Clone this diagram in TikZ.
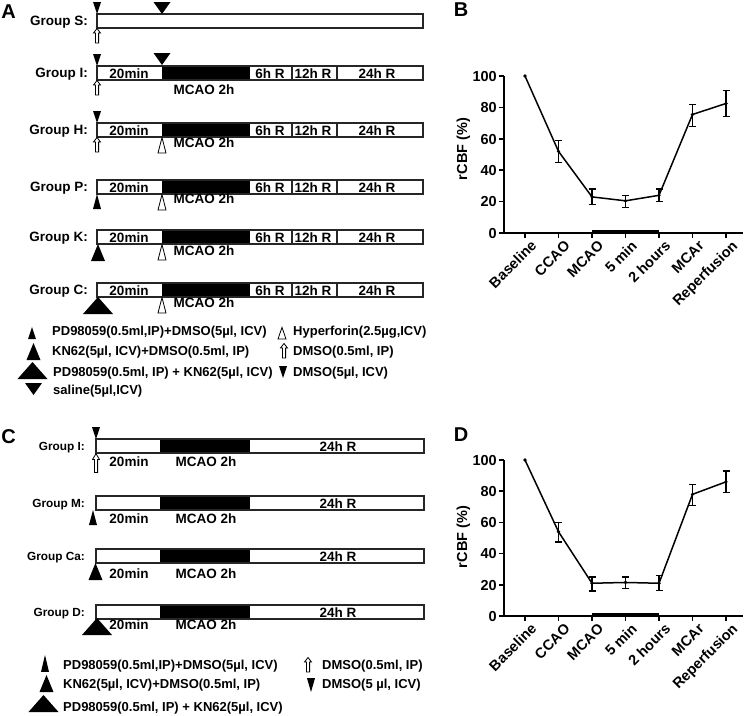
\documentclass[tikz,border=0pt]{standalone}
\usepackage{fontspec}
\setmainfont{Liberation Sans}
\tikzset{
  mkdn/.pic={\fill (-4,-12) -- (4,-12) -- (0,0) -- cycle;},
  mkdnw/.pic={\fill (-8.5,-12) -- (8.5,-12) -- (0,0) -- cycle;},
  mkarr/.pic={\draw[line width=0.8pt, fill=white] (0,0.5) -- (3.5,5) -- (1.6,5) -- (1.6,15) -- (-1.6,15) -- (-1.6,5) -- (-3.5,5) -- cycle;},
  mkhyp/.pic={\draw[line width=0.8pt, fill=white] (0,0.5) -- (4,16) -- (-4,16) -- cycle;},
  mkupS/.pic={\fill (0,0) -- (4,15) -- (-4,15) -- cycle;},
  mkupM/.pic={\fill (0,0) -- (7,17) -- (-7,17) -- cycle;},
  mkupL/.pic={\fill (0,0) -- (15,17) -- (-15,17) -- cycle;},
}
\begin{document}
\begin{tikzpicture}[x=1pt,y=-1pt,
  every node/.style={inner sep=0pt, text depth=0pt},
  bar/.style={draw=black!85, line width=1.2pt},
  seg/.style={draw=black!85, line width=1.1pt},
  tA/.style={font=\fontsize{13.5}{14}\selectfont\bfseries, text height=9.7pt},
  tC/.style={font=\fontsize{11.8}{13}\selectfont\bfseries, text height=8.5pt},
  tL/.style={font=\fontsize{13}{14}\selectfont\bfseries, text height=9.3pt, anchor=west},
  panel/.style={font=\fontsize{20}{22}\selectfont\bfseries, text height=14.3pt},
  ticklbl/.style={font=\fontsize{14.5}{15}\selectfont\bfseries, text height=10.4pt},
  xlbl/.style={font=\fontsize{14.5}{15}\selectfont\bfseries, text height=10.4pt, rotate=45, anchor=north east},
  ax/.style={line width=1.5pt},
  dl/.style={line width=1.5pt, line join=round},
  eb/.style={line width=1.2pt},
]
\useasboundingbox (0,0) rectangle (744,715);
\fill[white] (0,0) rectangle (744,715);

% ---------- Panel letters ----------
\node[panel] (pA) at (8.5,11.5) {A};
\node[panel] (pB) at (461,9.5) {B};
\node[panel] (pC) at (8.5,436) {C};
\node[panel] (pD) at (461,434) {D};

% ---------- Panel A ----------
\draw[bar, fill=white] (97,14) rectangle (423,28);
\node[tA, anchor=east] (aS) at (88,21) {Group S:};
\pic at (97,14) {mkdn};
\pic at (162,14) {mkdnw};
\pic at (97,28) {mkarr};

\foreach \gn/\gy/\gm in {I/66/90, H/123/143, P/180/199, K/230/251, C/283/303} {
  \fill[white] (97,\gy) rectangle (423,\gy+14);
  \fill (162,\gy) rectangle (250,\gy+14);
  \draw[seg] (292,\gy) -- (292,\gy+14) (337,\gy) -- (337,\gy+14);
  \draw[bar] (97,\gy) rectangle (423,\gy+14);
  \node[tA, anchor=east] (a\gn) at (88,\gy+7) {Group \gn:};
  \node[tA] (atw\gn) at (129,\gy+7.5) {20min};
  \node[tA] (atsix\gn) at (270,\gy+7.5) {6h R};
  \node[tA] (attw\gn) at (313,\gy+7.5) {12h R};
  \node[tA] (attf\gn) at (377,\gy+7.5) {24h R};
  \node[tA] (amc\gn) at (204,\gm) {MCAO 2h};
}
\pic at (97,66) {mkdn};
\pic at (162,65) {mkdnw};
\pic at (97,80) {mkarr};
\pic at (97,123) {mkdn};
\pic at (97,137) {mkarr};
\pic at (162,137) {mkhyp};
\pic at (97,194) {mkupS};
\pic at (162,194) {mkhyp};
\pic at (98,244) {mkupM};
\pic at (162,244) {mkhyp};
\pic at (98,297) {mkupL};
\pic at (162,297) {mkhyp};

% legend A
\pic[yscale=0.8] at (32,327) {mkupS};
\node[tL] (la1) at (52,331) {PD98059(0.5ml,IP)+DMSO(5µl, ICV)};
\pic at (33.5,343) {mkupM};
\node[tL] (la2) at (52,351) {KN62(5µl, ICV)+DMSO(0.5ml, IP)};
\pic at (32.5,362) {mkupL};
\node[tL] (la3) at (53,372) {PD98059(0.5ml, IP) + KN62(5µl, ICV)};
\pic at (33.5,395) {mkdnw};
\node[tL] (la4) at (53,390) {saline(5µl,ICV)};
\pic[yscale=0.75] at (282,327) {mkhyp};
\node[tL] (la5) at (293,331) {Hyperforin(2.5µg,ICV)};
\pic at (284,343) {mkarr};
\node[tL] (la6) at (293,351) {DMSO(0.5ml, IP)};
\pic at (283,378) {mkdn};
\node[tL] (la7) at (293,372) {DMSO(5µl, ICV)};

% ---------- Panel C ----------
\foreach \gn/\gy/\gm in {I/439/462, M/496/519, Ca/549/574, D/605/625} {
  \fill[white] (96,\gy) rectangle (424,\gy+14);
  \fill (160,\gy) rectangle (250,\gy+14);
  \draw[bar] (96,\gy) rectangle (424,\gy+14);
  \node[tC, anchor=east] (c\gn) at (85,\gy+7) {Group \gn:};
  \node[tA] (ctf\gn) at (338,\gy+8) {24h R};
  \node[tA] (ctw\gn) at (129,\gm) {20min};
  \node[tA] (cmc\gn) at (206,\gm) {MCAO 2h};
}
\pic at (96,439) {mkdn};
\pic[yscale=1.3] at (96,453) {mkarr};
\pic at (93,510) {mkupS};
\pic at (95.5,563) {mkupM};
\pic at (97,618) {mkupL};

% legend C
\pic[yscale=1.13] at (45,655) {mkupS};
\node[tL] (lc1) at (63,665) {PD98059(0.5ml,IP)+DMSO(5µl, ICV)};
\pic at (46.5,675) {mkupM};
\node[tL] (lc2) at (63,684) {KN62(5µl, ICV)+DMSO(0.5ml, IP)};
\pic at (43.5,695) {mkupL};
\node[tL] (lc3) at (63,707) {PD98059(0.5ml, IP) + KN62(5µl, ICV)};
\pic at (308,657) {mkarr};
\node[tL] (lc4) at (322,665) {DMSO(0.5ml, IP)};
\pic[yscale=1.15] at (311,692) {mkdn};
\node[tL] (lc5) at (322,684) {DMSO(5 µl, ICV)};

% ---------- Panel B chart ----------
\begin{scope}[shift={(504,233)}, y=1.57pt]
  \draw[ax] (0,100) -- (0,0) -- (239,0);
  \foreach \v in {0,20,...,100} {
    \draw[ax] (0,\v) -- (-5,\v);
    \node[ticklbl, anchor=east] (byt\v) at (-7,\v) {\v};
  }
  \foreach \xx [count=\i] in {21, 54.5, 88, 121.5, 155, 188.5, 222} {
    \draw[ax] (\xx,0) -- (\xx,-3.2);
    \coordinate (bxt\i) at (\xx+5,-4);
  }
  \draw[line width=3pt] (88,1) -- (155,1);
  \coordinate (bp1) at (21,100);
  \foreach \xx/\v/\lo/\hi [count=\i from 2] in {54.5/52/45/59, 88/23/18/28, 121.5/20.5/16/24, 155/24/20/28, 188.5/75.5/68/82, 222/82.5/74/91} {
    \coordinate (bp\i) at (\xx,\v);
    \draw[eb] (\xx,\lo) -- (\xx,\hi) (\xx-3.5,\lo) -- (\xx+3.5,\lo) (\xx-3.5,\hi) -- (\xx+3.5,\hi);
  }
  \draw[dl] (bp1) -- (bp2) -- (bp3) -- (bp4) -- (bp5) -- (bp6) -- (bp7);
  \foreach \i in {1,...,7} { \fill (bp\i) circle (1.8pt); }
\end{scope}
\foreach \nm [count=\i] in {Baseline, CCAO, MCAO, 5 min, 2 hours, MCAr, Reperfusion} {
  \node[xlbl] (bxl\i) at (bxt\i) {\nm};
}
\node[ticklbl, rotate=90] (bylab) at (462,149) {rCBF (\%)};

% ---------- Panel D chart ----------
\begin{scope}[shift={(504,616)}, y=1.56pt]
  \draw[ax] (0,100) -- (0,0) -- (239,0);
  \foreach \v in {0,20,...,100} {
    \draw[ax] (0,\v) -- (-5,\v);
    \node[ticklbl, anchor=east] (dyt\v) at (-7,\v) {\v};
  }
  \foreach \xx [count=\i] in {21, 54.5, 88, 121.5, 155, 188.5, 222} {
    \draw[ax] (\xx,0) -- (\xx,-3.2);
    \coordinate (dxt\i) at (\xx+5,-4);
  }
  \draw[line width=3pt] (88,1) -- (155,1);
  \coordinate (dp1) at (21,100);
  \foreach \xx/\v/\lo/\hi [count=\i from 2] in {54.5/54/47.5/60, 88/21/16/25, 121.5/21.5/17.5/25, 155/21/16.5/26, 188.5/78/71/84.5, 222/86/79/93} {
    \coordinate (dp\i) at (\xx,\v);
    \draw[eb] (\xx,\lo) -- (\xx,\hi) (\xx-3.5,\lo) -- (\xx+3.5,\lo) (\xx-3.5,\hi) -- (\xx+3.5,\hi);
  }
  \draw[dl] (dp1) -- (dp2) -- (dp3) -- (dp4) -- (dp5) -- (dp6) -- (dp7);
  \foreach \i in {1,...,7} { \fill (dp\i) circle (1.8pt); }
\end{scope}
\foreach \nm [count=\i] in {Baseline, CCAO, MCAO, 5 min, 2 hours, MCAr, Reperfusion} {
  \node[xlbl] (dxl\i) at (dxt\i) {\nm};
}
\node[ticklbl, rotate=90] (dylab) at (462,537) {rCBF (\%)};
\end{tikzpicture}
\end{document}
